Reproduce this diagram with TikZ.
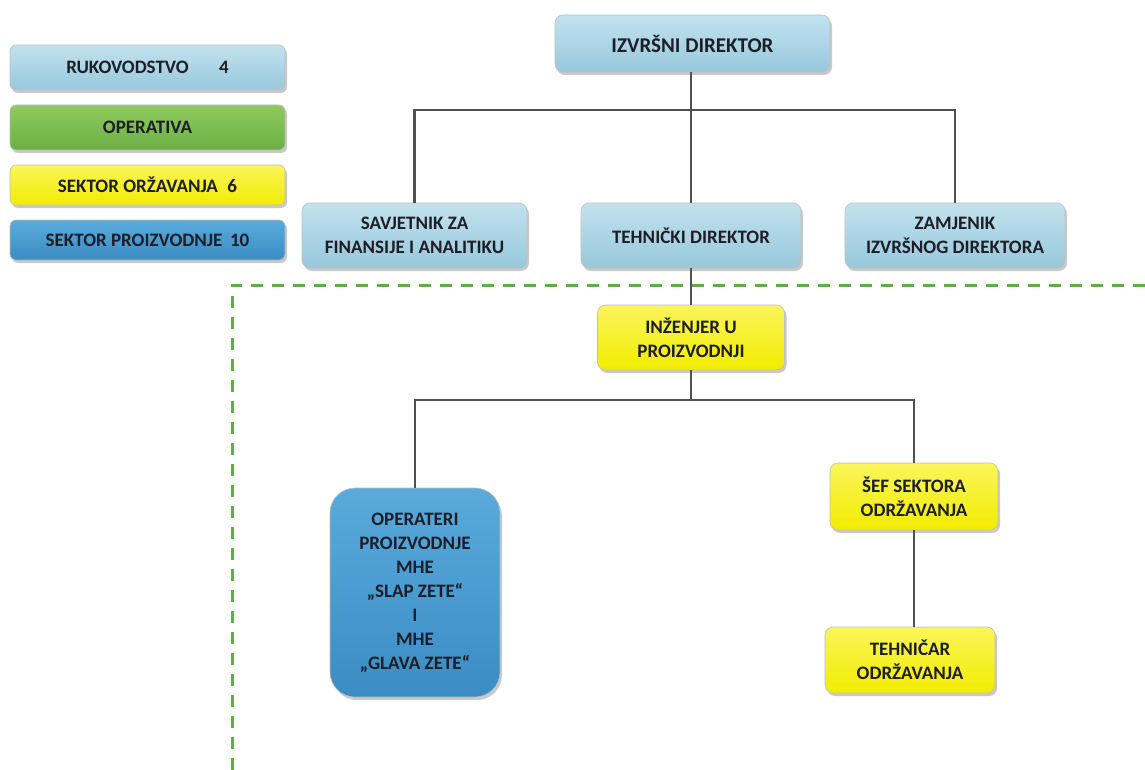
\documentclass[tikz,border=0pt]{standalone}
\usepackage{fontspec}
\setmainfont{Carlito}
\usetikzlibrary{shadows}
\definecolor{rukA}{HTML}{C2E2EE}
\definecolor{rukB}{HTML}{97C8DB}
\definecolor{grnA}{HTML}{8FCB5E}
\definecolor{grnB}{HTML}{6BB045}
\definecolor{yelA}{HTML}{FAF55A}
\definecolor{yelB}{HTML}{F2EC00}
\definecolor{bluA}{HTML}{5AAADB}
\definecolor{bluB}{HTML}{3A8CC4}
\definecolor{txt}{HTML}{1E1E28}
\definecolor{conn}{HTML}{505050}
\definecolor{dashg}{HTML}{5FAE45}
\tikzset{
  box/.style={rounded corners=8pt, draw=black!25, line width=0.6pt,
    align=center, font=\fontsize{19}{24}\selectfont\bfseries, text=txt,
    inner sep=2pt,
    drop shadow={shadow xshift=2pt, shadow yshift=-3pt, opacity=0.35, fill=black!60}},
  legbox/.style={box, rounded corners=6pt, minimum width=275pt},
  ruk/.style={top color=rukA, bottom color=rukB},
  grn/.style={top color=grnA, bottom color=grnB},
  yel/.style={top color=yelA, bottom color=yelB},
  blu/.style={top color=bluA, bottom color=bluB},
  link/.style={draw=conn, line width=2.2pt},
  sep/.style={draw=dashg, line width=3pt, dash pattern=on 12pt off 9pt}
}
\begin{document}
\begin{tikzpicture}[x=1pt,y=1pt]
\useasboundingbox[fill=white] (0,0) rectangle (1145,-770);
% legend
\node[legbox, ruk, minimum height=45pt] (l1) at (147.5,-67.5) {RUKOVODSTVO\hspace{1.6em}4};
\node[legbox, grn, minimum height=45pt] (l2) at (147.5,-127.5) {OPERATIVA};
\node[legbox, yel, minimum height=40pt] (l3) at (147.5,-185) {SEKTOR ORŽAVANJA\hspace{0.5em}6};
\node[legbox, blu, minimum height=40pt] (l4) at (147.5,-240) {SEKTOR PROIZVODNJE\hspace{0.4em}10};
% separator
\coordinate (s0) at (232,-285);
\coordinate (s1) at (1145,-285);
\coordinate (s2) at (232,-770);
\draw[sep] (s1) -- (s0) -- (s2);
% boxes
\node[box, ruk, font=\fontsize{21}{25}\selectfont\bfseries, minimum width=275pt, minimum height=57pt] (izv) at (692.5,-43.5) {IZVRŠNI DIREKTOR};
\node[box, ruk, minimum width=225pt, minimum height=65pt] (sav) at (414.5,-235.5) {SAVJETNIK ZA\\FINANSIJE I ANALITIKU};
\node[box, ruk, minimum width=220pt, minimum height=65pt] (teh) at (691,-235.5) {TEHNIČKI DIREKTOR};
\node[box, ruk, minimum width=220pt, minimum height=65pt] (zam) at (955,-235.5) {ZAMJENIK\\IZVRŠNOG DIREKTORA};
\node[box, yel, minimum width=187pt, minimum height=65pt] (inz) at (691,-337.5) {INŽENJER U\\PROIZVODNJI};
\node[box, blu, rounded corners=25pt, minimum width=170pt, minimum height=209pt] (ope) at (415,-592.5) {OPERATERI\\PROIZVODNJE\\MHE\\„SLAP ZETE“\\I\\MHE\\„GLAVA ZETE“};
\node[box, yel, minimum width=168pt, minimum height=67pt] (sef) at (914,-496.5) {ŠEF SEKTORA\\ODRŽAVANJA};
\node[box, yel, minimum width=170pt, minimum height=66pt] (tcr) at (910,-660) {TEHNIČAR\\ODRŽAVANJA};
% connectors
\coordinate (b1) at (691,-110);
\coordinate (b2) at (691,-400);
\draw[link] (izv.south -| b1) -- (b1);
\draw[link] (sav.north) |- (b1) -| (zam.north);
\draw[link] (b1) -- (teh.north);
\draw[link] (teh.south) -- (inz.north);
\draw[link] (inz.south) -- (b2);
\draw[link] (ope.north) |- (b2) -| (sef.north);
\draw[link] (sef.south) -- (sef.south |- tcr.north);
\end{tikzpicture}
\end{document}
